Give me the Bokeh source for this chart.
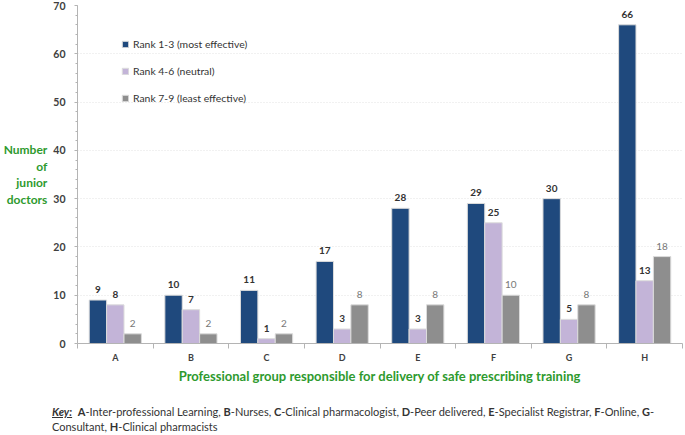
from bokeh.plotting import figure
from bokeh.models import (Range1d, FixedTicker, SingleIntervalTicker, Legend,
                          LegendItem, Div, ColumnDataSource)
from bokeh.layouts import column
from bokeh.core.properties import value
from bokeh.embed import file_html
from bokeh.resources import INLINE

categories = ["A", "B", "C", "D", "E", "F", "G", "H"]
rank_1_3 = [9, 10, 11, 17, 28, 29, 30, 66]
rank_4_6 = [8, 7, 1, 3, 3, 25, 5, 13]
rank_7_9 = [2, 2, 2, 8, 8, 10, 8, 18]
series_names = ["Rank 1-3 (most effective)", "Rank 4-6 (neutral)", "Rank 7-9 (least effective)"]
y_ticks_interval = 10

FONT = "Lato"
BLUE = "#1F497D"
PURPLE = "#C3B4D8"
GREY = "#8E8E8E"
GREEN = "#2E9A2E"

n = len(categories)
idx = list(range(n))

p = figure(width=684, height=392, x_range=Range1d(-0.5, n - 0.5), y_range=Range1d(0, 70),
           output_backend="svg", toolbar_location=None,
           min_border_left=76, min_border_right=2, min_border_top=5, min_border_bottom=49)
p.outline_line_color = None
p.background_fill_color = "white"
p.xgrid.visible = False
p.ygrid.grid_line_color = "#e2e2e2"
p.ygrid.grid_line_dash = "1 2"

# x axis: labels at category centres, ticks at the boundaries
xa = p.xaxis[0]
xa.ticker = FixedTicker(ticks=idx, minor_ticks=[i - 0.5 for i in range(n + 1)])
xa.major_label_overrides = {i: c for i, c in zip(idx, categories)}
xa.axis_line_color = "#b4b4b4"
xa.major_tick_line_color = None
xa.major_tick_out = 0
xa.major_tick_in = 0
xa.minor_tick_line_color = "#b4b4b4"
xa.minor_tick_out = 5
xa.minor_tick_in = 0
xa.major_label_standoff = 3
xa.major_label_text_font = FONT
xa.major_label_text_font_style = "bold"
xa.major_label_text_font_size = "9px"
xa.major_label_text_color = "#404040"
xa.axis_label = "Professional group responsible for delivery of safe prescribing training"
xa.axis_label_standoff = 2
xa.axis_label_text_font = FONT
xa.axis_label_text_font_style = "bold"
xa.axis_label_text_font_size = "13px"
xa.axis_label_text_color = GREEN

ya = p.yaxis[0]
ya.ticker = SingleIntervalTicker(interval=y_ticks_interval, num_minor_ticks=5)
ya.axis_line_color = "#b4b4b4"
ya.major_tick_line_color = "#b4b4b4"
ya.major_tick_out = 3
ya.major_tick_in = 0
ya.minor_tick_line_color = "#b4b4b4"
ya.minor_tick_out = 2
ya.minor_tick_in = 0
ya.major_label_standoff = 9
ya.major_label_text_font = FONT
ya.major_label_text_font_style = "bold"
ya.major_label_text_font_size = "10.5px"
ya.major_label_text_color = "#404040"
ya.axis_label = "Number\nof\njunior\ndoctors"
ya.axis_label_orientation = "horizontal"
ya.axis_label_standoff = 3
ya.axis_label_text_font = FONT
ya.axis_label_text_font_style = "bold"
ya.axis_label_text_font_size = "12px"
ya.axis_label_text_color = GREEN
ya.axis_label_text_align = "center"
ya.axis_label_text_line_height = 1.1

offset = 0.23
width = 0.23
series = [rank_1_3, rank_4_6, rank_7_9]
colors = [BLUE, PURPLE, GREY]
shifts = [-offset, 0.0, offset]
renderers = []
for vals, col, sh, k in zip(series, colors, shifts, range(3)):
    src = ColumnDataSource(dict(x=[i + sh for i in idx], top=vals, txt=[str(v) for v in vals]))
    r = p.vbar(x="x", top="top", width=width, source=src, fill_color=col,
               line_color="#dcdcdc", line_width=1)
    renderers.append(r)
    p.text(x="x", y="top", text="txt", source=src, text_align="center",
           text_baseline="bottom", y_offset=-7,
           text_font=value(FONT), text_font_size="10px",
           text_font_style="normal" if k == 2 else "bold",
           text_color="#777777" if k == 2 else "#333333")

legend = Legend(items=[LegendItem(label=nm, renderers=[r]) for nm, r in zip(series_names, renderers)],
                location=(44, 239), orientation="vertical",
                background_fill_alpha=0, border_line_color=None,
                padding=0, margin=0, spacing=15,
                glyph_width=8, glyph_height=8, label_height=12, label_standoff=4,
                label_text_font=FONT, label_text_font_size="10.4px", label_text_color="#333333")
p.add_layout(legend)

key_html = (
    '<div style="font-family:Lato; font-size:11px; color:#333; padding:12px 0 0 52px; '
    'line-height:15px; white-space:nowrap;">'
    '<b><i><u>Key:</u></i></b>&nbsp; <b>A</b>-Inter-professional Learning, <b>B</b>-Nurses, '
    '<b>C</b>-Clinical pharmacologist, <b>D</b>-Peer delivered, <b>E</b>-Specialist Registrar, '
    '<b>F</b>-Online, <b>G</b>-<br>Consultant, <b>H</b>-Clinical pharmacists</div>'
)
key = Div(text=key_html, width=684, height=42, margin=(0, 0, 0, 0))

layout = column(p, key, spacing=0)
open("out.html", "w").write(file_html(layout, INLINE))
